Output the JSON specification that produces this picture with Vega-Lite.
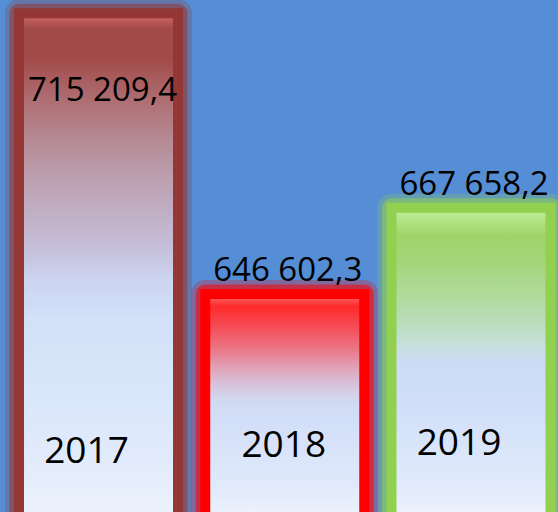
{
  "$schema": "https://vega.github.io/schema/vega-lite/v6.json",
  "width": 558,
  "height": 512,
  "autosize": {"type": "none"},
  "padding": 0,
  "background": "#558ED5",
  "config": {
    "view": {"stroke": null},
    "locale": {"number": {"decimal": ",", "thousands": " ", "grouping": [3], "currency": ["", ""]}}
  },
  "data": {"values": [
    {"year": "2017", "value": 715209.4},
    {"year": "2018", "value": 646602.3},
    {"year": "2019", "value": 667658.2}
  ]},
  "encoding": {
    "x": {"field": "year", "type": "nominal", "axis": null, "scale": {"type": "band", "range": [5.4, 564.1], "paddingInner": 0, "paddingOuter": 0}},
    "y": {"field": "value", "type": "quantitative", "axis": null, "scale": {"domain": [593323, 718456], "zero": false, "nice": false}}
  },
  "layer": [
    {
      "mark": {"type": "bar", "size": 159, "fillOpacity": 0, "strokeWidth": 28, "strokeOpacity": 0.25, "strokeJoin": "round"},
      "encoding": {
        "y2": {"datum": 591000},
        "stroke": {"field": "year", "type": "nominal", "legend": null, "scale": {"domain": ["2017", "2018", "2019"], "range": ["#943634", "#FF0000", "#92D050"]}}
      }
    },
    {
      "mark": {"type": "bar", "size": 159, "fillOpacity": 0, "strokeWidth": 19, "strokeOpacity": 0.55, "strokeJoin": "round"},
      "encoding": {
        "y2": {"datum": 591000},
        "stroke": {"field": "year", "type": "nominal", "legend": null, "scale": {"domain": ["2017", "2018", "2019"], "range": ["#943634", "#FF0000", "#92D050"]}}
      }
    },
    {
      "transform": [{"filter": "datum.year == '2017'"}],
      "mark": {"type": "bar", "size": 159, "stroke": "#943634", "strokeWidth": 10,
        "fill": {"gradient": "linear", "x1": 0, "y1": 0, "x2": 0, "y2": 1, "stops": [
          {"offset": 0, "color": "#D86A68"},
          {"offset": 0.03, "color": "#A24B4A"},
          {"offset": 0.09, "color": "#A24B4A"},
          {"offset": 0.17, "color": "#AE6E72"},
          {"offset": 0.25, "color": "#B68A94"},
          {"offset": 0.32, "color": "#BC9EAE"},
          {"offset": 0.43, "color": "#C3B8D0"},
          {"offset": 0.49, "color": "#C8C8E4"},
          {"offset": 0.52, "color": "#CCD4F0"},
          {"offset": 0.6, "color": "#D2E0F8"},
          {"offset": 0.72, "color": "#D8E6FA"},
          {"offset": 0.86, "color": "#E0EAFB"},
          {"offset": 1, "color": "#EEF3FD"}
        ]}},
      "encoding": {"y2": {"datum": 591000}}
    },
    {
      "transform": [{"filter": "datum.year == '2018'"}],
      "mark": {"type": "bar", "size": 159, "stroke": "#FF0000", "strokeWidth": 10,
        "fill": {"gradient": "linear", "x1": 0, "y1": 0, "x2": 0, "y2": 1, "stops": [
          {"offset": 0, "color": "#FF7070"},
          {"offset": 0.054, "color": "#FF2A2A"},
          {"offset": 0.14, "color": "#F54A55"},
          {"offset": 0.23, "color": "#EC7080"},
          {"offset": 0.32, "color": "#E0A0B4"},
          {"offset": 0.39, "color": "#D8C0D8"},
          {"offset": 0.46, "color": "#D0D8F0"},
          {"offset": 0.54, "color": "#D2DEF8"},
          {"offset": 0.8, "color": "#DEE8FB"},
          {"offset": 1, "color": "#EEF3FD"}
        ]}},
      "encoding": {"y2": {"datum": 591000}}
    },
    {
      "transform": [{"filter": "datum.year == '2019'"}],
      "mark": {"type": "bar", "size": 159, "stroke": "#92D050", "strokeWidth": 10,
        "fill": {"gradient": "linear", "x1": 0, "y1": 0, "x2": 0, "y2": 1, "stops": [
          {"offset": 0, "color": "#C4EE98"},
          {"offset": 0.025, "color": "#B8E890"},
          {"offset": 0.09, "color": "#9FD468"},
          {"offset": 0.18, "color": "#A4D67C"},
          {"offset": 0.28, "color": "#B0DA9C"},
          {"offset": 0.37, "color": "#BCDCBC"},
          {"offset": 0.43, "color": "#C4E0D8"},
          {"offset": 0.49, "color": "#CCDCF4"},
          {"offset": 0.62, "color": "#D0DEF8"},
          {"offset": 0.87, "color": "#E0EAFB"},
          {"offset": 1, "color": "#EEF3FD"}
        ]}},
      "encoding": {"y2": {"datum": 591000}}
    },
    {
      "transform": [{"filter": "datum.year != '2017'"}],
      "mark": {"type": "text", "font": "Open Sans", "fontSize": 33, "color": "#000000", "baseline": "middle", "dy": -23, "dx": 3},
      "encoding": {"text": {"field": "value", "type": "quantitative", "format": ",.1f"}}
    },
    {
      "transform": [{"filter": "datum.year == '2017'"}],
      "mark": {"type": "text", "font": "Open Sans", "fontSize": 33, "color": "#000000", "baseline": "middle", "dy": 78, "dx": 4},
      "encoding": {"text": {"field": "value", "type": "quantitative", "format": ",.1f"}}
    },
    {
      "transform": [{"filter": "datum.year == '2017'"}],
      "mark": {"type": "text", "font": "Open Sans", "fontSize": 37, "color": "#000000", "baseline": "middle", "dx": -12, "dy": 6},
      "encoding": {
        "y": {"datum": 609450},
        "text": {"field": "year", "type": "nominal"}
      }
    },
    {
      "transform": [{"filter": "datum.year == '2018'"}],
      "mark": {"type": "text", "font": "Open Sans", "fontSize": 37, "color": "#000000", "baseline": "middle", "dx": -1, "dy": 0},
      "encoding": {
        "y": {"datum": 609450},
        "text": {"field": "year", "type": "nominal"}
      }
    },
    {
      "transform": [{"filter": "datum.year == '2019'"}],
      "mark": {"type": "text", "font": "Open Sans", "fontSize": 37, "color": "#000000", "baseline": "middle", "dx": -12, "dy": -2},
      "encoding": {
        "y": {"datum": 609450},
        "text": {"field": "year", "type": "nominal"}
      }
    }
  ]
}
